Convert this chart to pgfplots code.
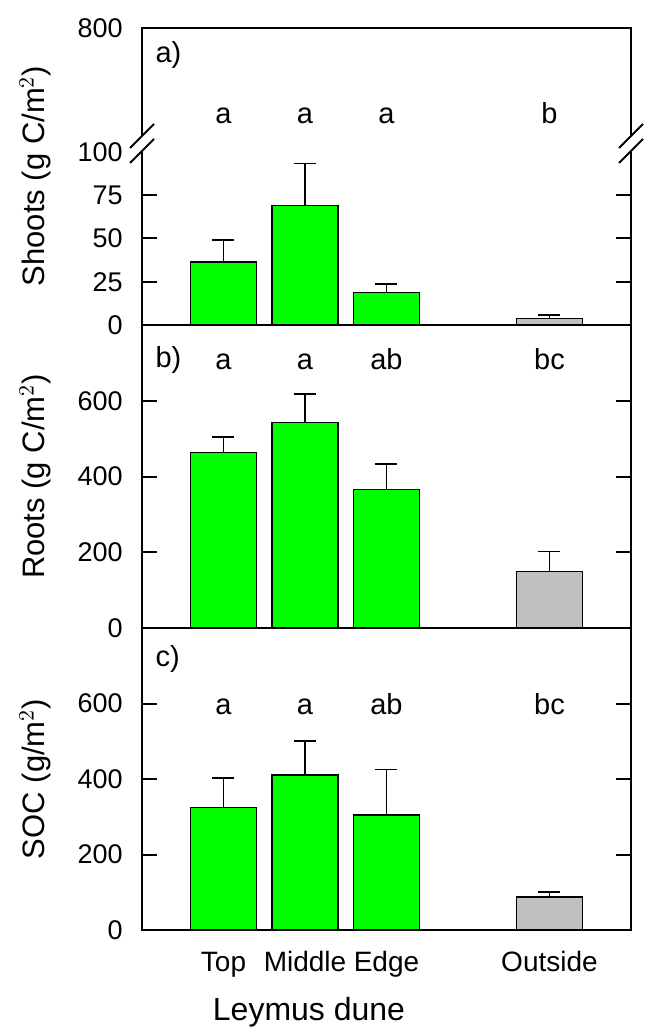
\documentclass[border=0pt]{standalone}
\usepackage{fontspec}
\setmainfont{Liberation Sans}
\usepackage{pgfplots}
\pgfplotsset{compat=1.18}

\definecolor{dunegreen}{RGB}{0,255,0}
\definecolor{outgray}{RGB}{192,192,192}

% the picture is laid out at 0.5pt per pixel of the 644x1030 original
\pgfplotsset{
    panel/.style={
        scale only axis, width=244.5pt, xmin=0, xmax=6,
        axis line style={draw=none}, clip=false,
        xtick=\empty, ytick align=inside,
        major tick length=7.5pt,
        tick style={black, line width=1pt},
        /pgf/number format/assume math mode=true,
        yticklabel style={font=\fontsize{13.5}{16}\selectfont,
            anchor=east, inner sep=0pt, xshift=-9.5pt},
    },
    bars/.style={ybar, bar shift=0pt, bar width=0.81, draw=black,
        line width=0.75pt,
        error bars/y dir=plus, error bars/y explicit,
        error bars/error bar style={line width=0.9pt, black},
        error bars/error mark options={rotate=90, line width=0.9pt,
            mark size=5.5pt, black}},
}
\tikzset{letter/.style={font=\fontsize{14.5}{17}\selectfont, anchor=base}}

\begin{document}
\begin{tikzpicture}
\useasboundingbox (0pt,0pt) rectangle (322pt,515pt);

% c) soil organic carbon
\begin{axis}[panel, at={(71pt,50pt)}, anchor=south west, height=151pt,
    ymin=0, ymax=800, ytick={0,200,400,600},
    xtick={1,2,3,5}, xticklabels={Top,Middle,Edge,Outside},
    xtick style={draw=none},
    xticklabel style={font=\fontsize{14}{17}\selectfont, anchor=base,
        inner sep=0pt, yshift=-21pt}]
    \addplot[bars, fill=dunegreen] coordinates {
        (1,324) +- (0,79) (2,411) +- (0,89) (3,305) +- (0,120)};
    \addplot[bars, fill=outgray] coordinates {(5,87) +- (0,14)};
    \node[letter] at (axis cs:1,570) {a};
    \node[letter] at (axis cs:2,570) {a};
    \node[letter] at (axis cs:3,570) {ab};
    \node[letter] at (axis cs:5,570) {bc};
    \node[letter, anchor=base west] at (axis cs:0.08,699) {c)};
    \draw[line width=1pt] (rel axis cs:0,0) rectangle (rel axis cs:1,1);
\end{axis}

% b) roots
\begin{axis}[panel, at={(71pt,201pt)}, anchor=south west, height=151.5pt,
    ymin=0, ymax=800, ytick={0,200,400,600}]
    \addplot[bars, fill=dunegreen] coordinates {
        (1,464) +- (0,40) (2,542) +- (0,75) (3,366) +- (0,67)};
    \addplot[bars, fill=outgray] coordinates {(5,149) +- (0,53)};
    \node[letter] at (axis cs:1,683) {a};
    \node[letter] at (axis cs:2,683) {a};
    \node[letter] at (axis cs:3,683) {ab};
    \node[letter] at (axis cs:5,683) {bc};
    \node[letter, anchor=base west] at (axis cs:0.08,688) {b)};
    \draw[line width=1pt] (rel axis cs:0,0) rectangle (rel axis cs:1,1);
\end{axis}

% a) shoots, lower part of the broken axis
\begin{axis}[panel, at={(71pt,352.5pt)}, anchor=south west, height=86.5pt,
    ymin=0, ymax=100, ytick={0,25,50,75},
    extra y ticks={100}, extra y tick style={major tick length=0pt}]
    \addplot[bars, fill=dunegreen] coordinates {
        (1,36.5) +- (0,12.5) (2,69) +- (0,24.3) (3,18.9) +- (0,4.8)};
    \addplot[bars, fill=outgray] coordinates {(5,3.8) +- (0,2)};
    \draw[line width=1pt] (rel axis cs:0,1) -- (rel axis cs:0,0)
        -- (rel axis cs:1,0) -- (rel axis cs:1,1);
\end{axis}

% a) upper part of the broken axis
\begin{axis}[panel, at={(71pt,447pt)}, anchor=south west, height=54pt,
    ymin=100, ymax=800, ytick={800}]
    \node[letter] at (axis cs:1,182) {a};
    \node[letter] at (axis cs:2,182) {a};
    \node[letter] at (axis cs:3,182) {a};
    \node[letter] at (axis cs:5,182) {b};
    \node[letter, anchor=base west] at (axis cs:0.08,575) {a)};
    \draw[line width=1pt] (rel axis cs:0,0) -- (rel axis cs:0,1)
        -- (rel axis cs:1,1) -- (rel axis cs:1,0);
\end{axis}

% break marks on both sides
\foreach \bx in {71,315.5} {
    \draw[line width=0.9pt] (\bx pt-6pt,441pt) -- (\bx pt+6pt,453pt);
    \draw[line width=0.9pt] (\bx pt-6pt,433.5pt) -- (\bx pt+6pt,445.5pt);
}

% axis titles
\begin{scope}[font=\fontsize{15.5}{18}\selectfont]
    \node[rotate=90, anchor=base] at (22pt,427pt) {Shoots (g C/m$^2$)};
    \node[rotate=90, anchor=base] at (22pt,276.75pt) {Roots (g C/m$^2$)};
    \node[rotate=90, anchor=base] at (22pt,125.5pt) {SOC (g/m$^2$)};
\end{scope}
\node[font=\fontsize{16}{19}\selectfont, anchor=base] at (154.5pt,5pt)
    {Leymus dune};
\end{tikzpicture}
\end{document}
